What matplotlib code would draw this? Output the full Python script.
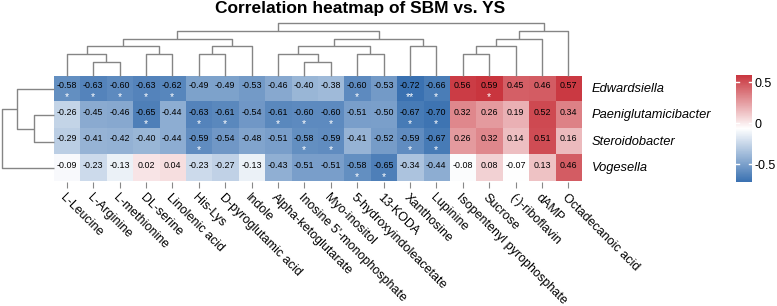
import matplotlib
matplotlib.use("Agg")
import matplotlib.pyplot as plt
import numpy as np
from matplotlib.colors import LinearSegmentedColormap

plt.rcParams["font.family"] = ["Liberation Sans", "DejaVu Sans"]

# metabolites, in the clustered order shown
metabolites = ["L-Leucine", "L-Arginine", "L-methionine", "DL-serine", "Linolenic acid",
               "His-Lys", "D-pyroglutamic acid", "Indole", "Alpha-ketoglutarate",
               "Inosine 5'-monophosphate", "Myo-inositol", "5-hydroxyindoleacetate",
               "13-KODA", "Xanthosine", "Lupinine", "Isopentenyl pyrophosphate",
               "Sucrose", "(-)-riboflavin", "dAMP", "Octadecanoic acid"]
genera = ["Edwardsiella", "Paeniglutamicibacter", "Steroidobacter", "Vogesella"]

r_edwardsiella = [-0.58, -0.63, -0.60, -0.63, -0.62, -0.49, -0.49, -0.53, -0.46, -0.40,
                  -0.38, -0.60, -0.53, -0.72, -0.66, 0.56, 0.59, 0.45, 0.46, 0.57]
r_paeniglut = [-0.26, -0.45, -0.46, -0.65, -0.44, -0.63, -0.61, -0.54, -0.61, -0.60,
               -0.60, -0.51, -0.50, -0.67, -0.70, 0.32, 0.26, 0.19, 0.52, 0.34]
r_steroido = [-0.29, -0.41, -0.42, -0.40, -0.44, -0.59, -0.54, -0.48, -0.51, -0.58,
              -0.59, -0.41, -0.52, -0.59, -0.67, 0.26, 0.32, 0.14, 0.51, 0.16]
r_vogesella = [-0.09, -0.23, -0.13, 0.02, 0.04, -0.23, -0.27, -0.13, -0.43, -0.51,
               -0.51, -0.58, -0.65, -0.34, -0.44, -0.08, 0.08, -0.07, 0.13, 0.46]

sig_edwardsiella = ["*", "*", "*", "*", "*", "", "", "", "", "", "", "*", "", "**", "*",
                    "", "*", "", "", ""]
sig_paeniglut = ["", "", "", "*", "", "*", "*", "", "*", "*", "*", "", "", "*", "*",
                 "", "", "", "", ""]
sig_steroido = ["", "", "", "", "", "*", "", "", "", "*", "*", "", "", "*", "*",
                "", "", "", "", ""]
sig_vogesella = ["", "", "", "", "", "", "", "", "", "", "", "*", "*", "", "",
                 "", "", "", "", ""]

# dendrograms: (left, right, height), leaves are display indices
col_tree = (
    (
        (((0, (1, 2, 0.25), 0.41), (3, 4, 0.41), 0.57),
         (((5, 6, 0.41), 7, 0.57)), 0.70),
        (((8, (9, 10, 0.25), 0.41), (11, 12, 0.41), 0.57),
         (13, 14, 0.57), 0.70),
        0.85),
    ((((15, 16, 0.41), 17, 0.57), 18, 0.70), 19, 0.85),
    1.0)
row_tree = ((0, (1, 2, 0.37), 0.71), 3, 1.0)

W, H = 777, 306
fig = plt.figure(figsize=(W / 100, H / 100), dpi=100)


def add_px(l, t, r, b):
    return fig.add_axes([l / W, 1 - b / H, (r - l) / W, (b - t) / H])


def draw_tree(ax, node, vertical):
    if isinstance(node, int):
        return node, 0.0
    left, right, h = node
    p1, h1 = draw_tree(ax, left, vertical)
    p2, h2 = draw_tree(ax, right, vertical)
    xs = [p1, p1, p2, p2]
    ys = [h1, h, h, h2]
    if not vertical:
        xs, ys = ys, xs
    ax.plot(xs, ys, color="#858585", lw=1.0, clip_on=False, solid_capstyle="butt")
    return (p1 + p2) / 2, h


data = np.array([r_edwardsiella, r_paeniglut, r_steroido, r_vogesella])
stars = [sig_edwardsiella, sig_paeniglut, sig_steroido, sig_vogesella]
vmin, vmax = -0.72, 0.59
cmap = LinearSegmentedColormap.from_list("bwr2", ["#3A71B1", "#FFFFFF", "#C9353E"])

# heatmap
ax = add_px(53.5, 75.5, 581.5, 181.5)
im = ax.imshow(data, cmap=cmap, vmin=vmin, vmax=vmax, aspect="auto", interpolation="nearest")
for i in range(data.shape[0]):
    for j in range(data.shape[1]):
        ax.text(j, i - 0.12, f"{data[i, j]:.2f}", ha="center", va="center", fontsize=6.4,
                color="black")
        if stars[i][j]:
            ax.text(j, i + 0.33, stars[i][j], ha="center", va="center", fontsize=7.5,
                    color="white")
for s in ax.spines.values():
    s.set_visible(False)
ax.set_xticks(range(len(metabolites)))
ax.set_xticklabels(metabolites, rotation=-45, ha="left", va="top", rotation_mode="anchor",
                   fontsize=9)
ax.tick_params(axis="x", length=4, color="#888888", pad=3)
ax.set_yticks([])
for i, g in enumerate(genera):
    ax.text(1.02, 1 - (i + 0.5) / 4, g, transform=ax.transAxes, ha="left", va="center",
            fontsize=9.3, style="italic")

# column dendrogram
axc = add_px(53.5, 23.3, 581.5, 75.5)
draw_tree(axc, col_tree, True)
axc.set_xlim(-0.5, len(metabolites) - 0.5)
axc.set_ylim(0, 1.0)
axc.axis("off")

# row dendrogram
axr = add_px(1.7, 75.5, 53.5, 181.5)
draw_tree(axr, row_tree, False)
axr.set_xlim(1.0, 0)
axr.set_ylim(len(genera) - 0.5, -0.5)
axr.axis("off")

# colour key
cax = add_px(736, 75, 751.7, 182)
cb = fig.colorbar(im, cax=cax, ticks=[-0.5, 0, 0.5])
cb.outline.set_visible(False)
cb.ax.set_yticklabels(["-0.5", "0", "0.5"], fontsize=9)
cb.ax.tick_params(length=0, pad=2)
for v in [-0.5, 0, 0.5]:
    cax.plot([0, 0.2], [v, v], color="white", lw=1, transform=cax.get_yaxis_transform())
    cax.plot([0.8, 1], [v, v], color="white", lw=1, transform=cax.get_yaxis_transform())

fig.text(360 / W, 1 - 9 / H, "Correlation heatmap of SBM vs. YS", ha="center", va="center",
         fontsize=12.5, fontweight="bold")

fig.savefig("out.png", dpi=100)
